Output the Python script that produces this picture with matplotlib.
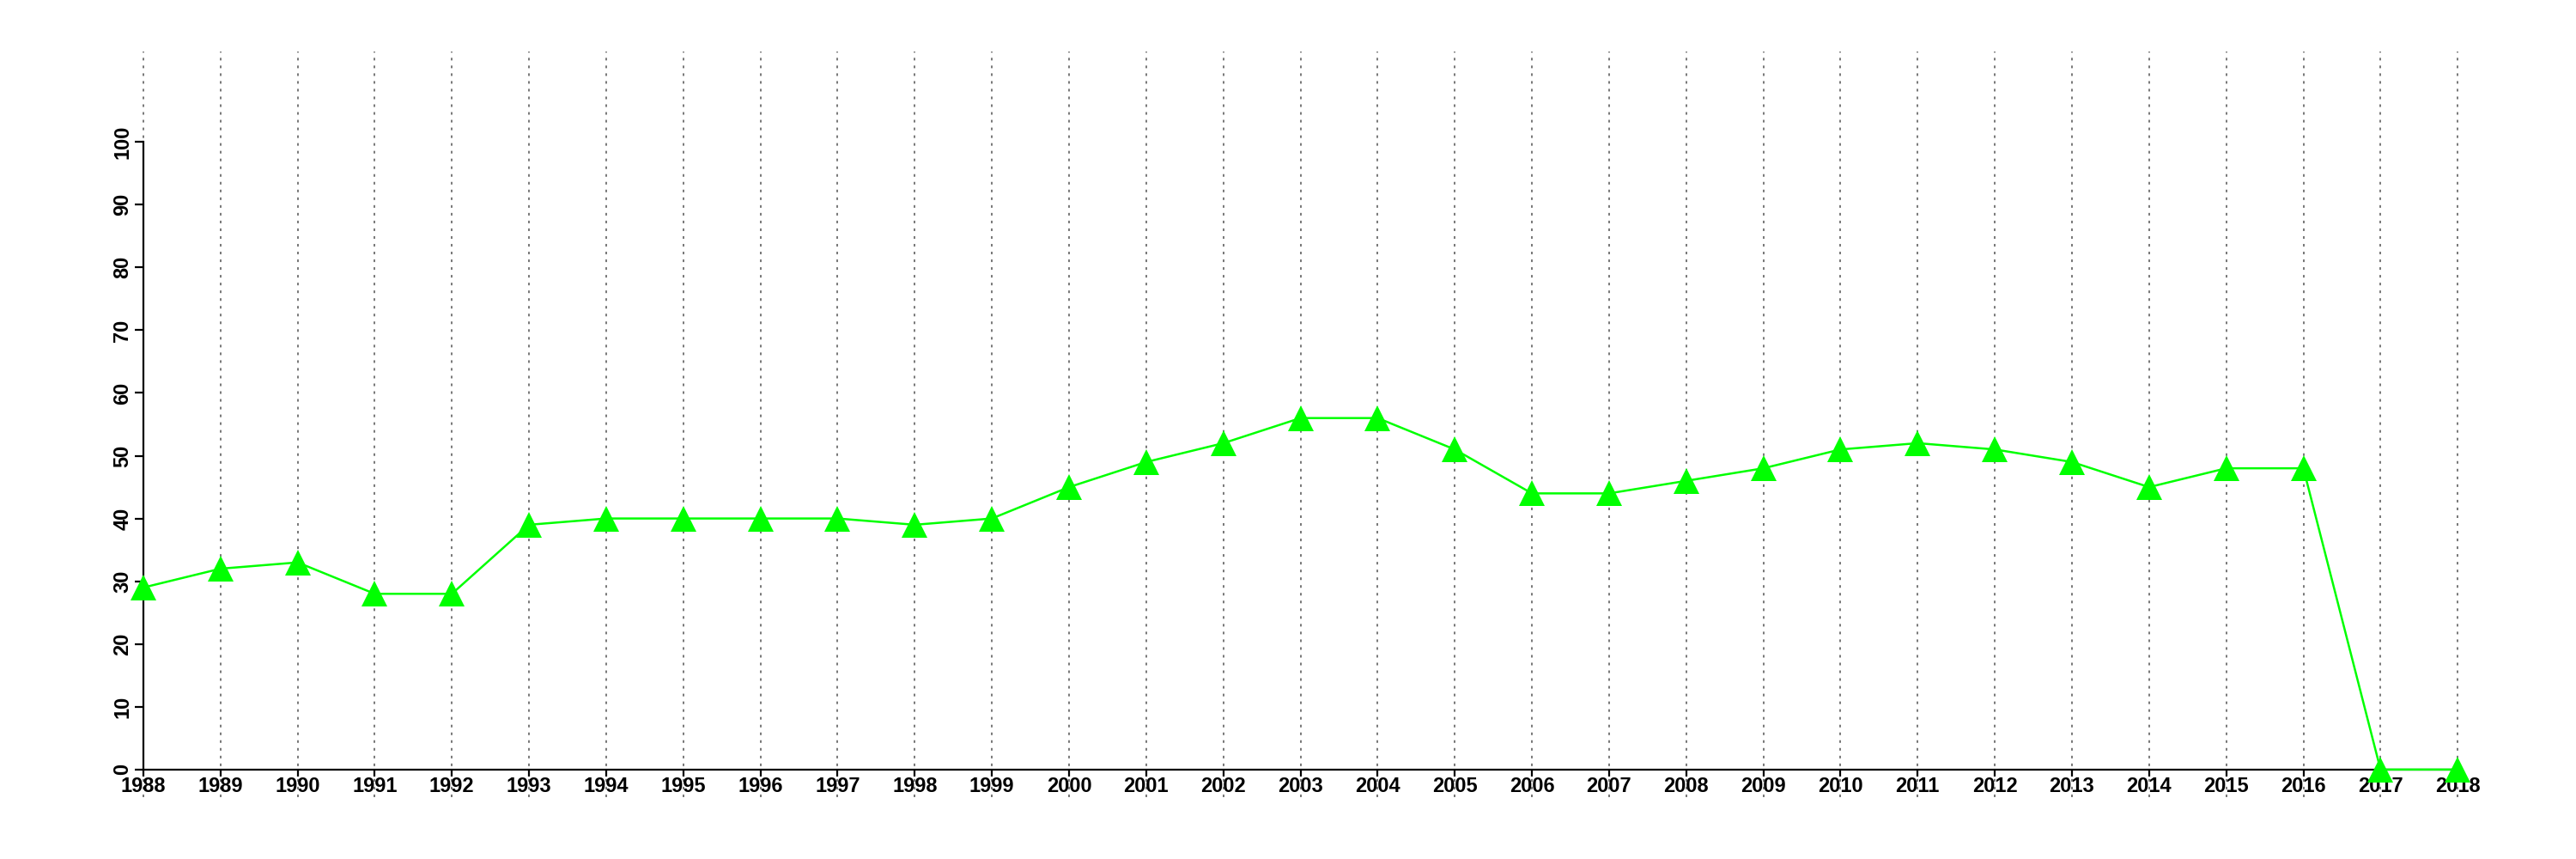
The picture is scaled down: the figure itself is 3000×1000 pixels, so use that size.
import matplotlib
matplotlib.use('Agg')
import matplotlib.pyplot as plt

years = list(range(1988, 2019))
values = [29, 32, 33, 28, 28, 39, 40, 40, 40, 40, 39, 40, 45, 49, 52, 56, 56,
          51, 44, 44, 46, 48, 51, 52, 51, 49, 45, 48, 48, 0, 0]
yticks = list(range(0, 101, 10))

plt.rcParams['font.family'] = ['Liberation Sans', 'DejaVu Sans']
plt.rcParams['font.weight'] = 'bold'
plt.rcParams['lines.scale_dashes'] = False

fig = plt.figure(figsize=(30, 10), dpi=100)
ax = fig.add_axes([0.0197, 0.072, 0.9703, 0.868])

# R-style 4% padding around xlim 1988..2018 and ylim 0..110
ax.set_xlim(1988 - 1.2, 2018 + 1.2)
ax.set_ylim(0 - 4.4, 110 + 4.4)

for yr in years:
    ax.axvline(yr, color='#777777', lw=1.4, linestyle=(0, (2.2, 4.3)), zorder=1)

ax.plot(years, values, color='#00ff00', lw=1.8, marker='^', markersize=21,
        markeredgewidth=0, zorder=3)

for s in ['top', 'right']:
    ax.spines[s].set_visible(False)
ax.spines['left'].set_bounds(0, 100)
ax.spines['bottom'].set_bounds(1988, 2018)
ax.spines['left'].set_position(('data', 1988))
ax.spines['bottom'].set_position(('data', 0))
for s in ['left', 'bottom']:
    ax.spines[s].set_linewidth(1.6)

ax.set_xticks(years)
ax.set_xticklabels([str(y) for y in years], fontsize=17, fontweight='bold')
ax.set_yticks(yticks)
ax.set_yticklabels([str(v) for v in yticks], fontsize=17, fontweight='bold',
                   rotation=90, va='center')
ax.tick_params(axis='x', length=6, width=1.6, pad=0)
ax.tick_params(axis='y', length=7, width=1.6, pad=2)

fig.savefig('out.png', dpi=100)
